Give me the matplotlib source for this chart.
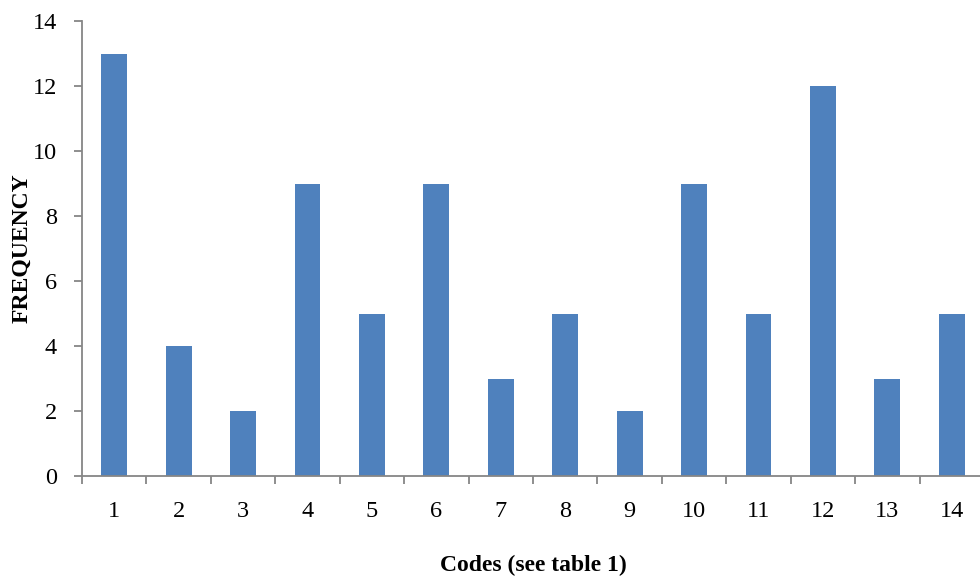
import matplotlib
matplotlib.use("Agg")
import matplotlib.pyplot as plt
import numpy as np

codes = [str(i) for i in range(1, 15)]
frequency = [13, 4, 2, 9, 5, 9, 3, 5, 2, 9, 5, 12, 3, 5]

plt.rcParams['font.family'] = ['Liberation Serif', 'DejaVu Serif']

fig = plt.figure(figsize=(9.8, 5.84), dpi=100)
ax = fig.add_axes([82 / 980, 108 / 584, 902 / 980, 455 / 584])

x = np.arange(1, len(codes) + 1)
ax.bar(x, frequency, width=0.4, color='#4F81BD', zorder=2)

ax.set_xlim(0.5, len(codes) + 0.5)
ax.set_ylim(0, 14)
ax.set_yticks(np.arange(0, 15, 2))
ax.set_xticks(x)
ax.set_xticklabels(codes)
ax.set_xticks(np.arange(0.5, len(codes) + 1, 1), minor=True)
ax.tick_params(axis='x', which='major', length=0, pad=18, labelsize=17.5)
ax.tick_params(axis='x', which='minor', length=6, width=1.3, color='#868686')
ax.tick_params(axis='y', length=6, width=1.3, color='#868686', labelsize=17.5, pad=12)

for s in ['top', 'right']:
    ax.spines[s].set_visible(False)
for s in ['left', 'bottom']:
    ax.spines[s].set_color('#868686')
    ax.spines[s].set_linewidth(1.3)

ax.set_xlabel("Codes (see table 1)", fontsize=17, fontweight='bold', labelpad=24)
ax.set_ylabel("FREQUENCY", fontsize=17, fontweight='bold')
ax.yaxis.set_label_coords(-50 / 902, 0.5)

plt.savefig("out.png", dpi=100)
